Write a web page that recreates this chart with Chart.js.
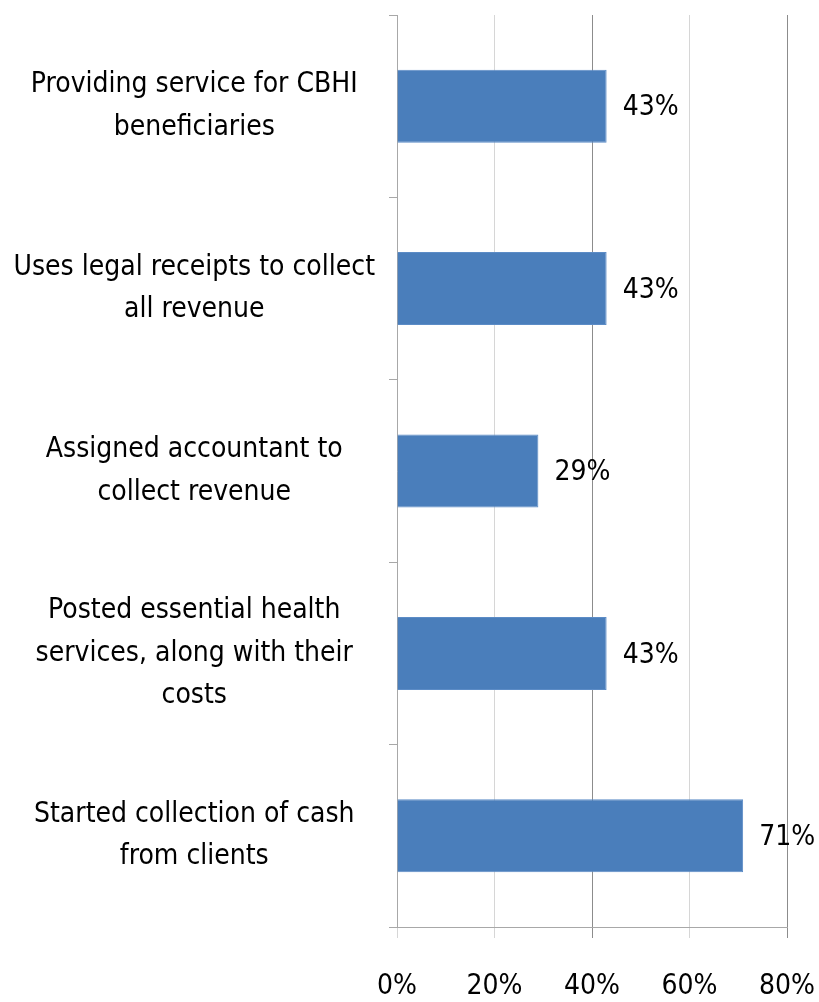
<!DOCTYPE html>
<html>
<head>
<meta charset="utf-8">
<script src="https://cdn.jsdelivr.net/npm/chart.js@4.4.1/dist/chart.umd.min.js"></script>
<style>
  html, body { margin: 0; padding: 0; background: #fff; }
  #wrap { width: 819px; height: 1002px; }
</style>
</head>
<body>
<div id="wrap"><canvas id="c" width="819" height="1002"></canvas></div>
<script>
const categories = [
  ["Providing service for CBHI", "beneficiaries"],
  ["Uses legal receipts to collect", "all revenue"],
  ["Assigned accountant to", "collect revenue"],
  ["Posted essential health", "services, along with their", "costs"],
  ["Started collection of cash", "from clients"]
];
const values = [43, 43, 29, 43, 71];
const valueLabels = ["43%", "43%", "29%", "43%", "71%"];
const xTicks = [0, 20, 40, 60, 80];

const FONT = "'Liberation Sans Narrow', 'DejaVu Sans Condensed', 'Arial Narrow', sans-serif";
const FS = 28;

const valueLabelPlugin = {
  id: 'valueLabels',
  afterDatasetsDraw(chart) {
    const ctx = chart.ctx;
    const meta = chart.getDatasetMeta(0);
    ctx.save();
    ctx.font = FS + "px " + FONT;
    ctx.fillStyle = '#000';
    ctx.textAlign = 'left';
    ctx.textBaseline = 'middle';
    meta.data.forEach((bar, i) => {
      ctx.fillText(valueLabels[i], bar.x + 16, bar.y + 2);
    });
    ctx.restore();
  }
};

new Chart(document.getElementById('c'), {
  type: 'bar',
  data: {
    labels: categories,
    datasets: [{
      data: values,
      backgroundColor: '#4A7EBB',
      borderColor: '#5C8CC6',
      borderWidth: 1,
      categoryPercentage: 1.0,
      barPercentage: 0.4
    }]
  },
  options: {
    indexAxis: 'y',
    responsive: false,
    animation: false,
    layout: { padding: { top: 15, right: 32, left: 0, bottom: 0 } },
    plugins: { legend: { display: false }, tooltip: { enabled: false } },
    scales: {
      x: {
        min: 0, max: 80,
        afterBuildTicks(scale) { scale.ticks = xTicks.map(v => ({ value: v })); },
        afterFit(scale) { scale.height = 75; scale.paddingLeft = 0; scale.paddingRight = 0; },
        ticks: {
          callback: v => v + '%',
          color: '#000',
          padding: 32,
          font: { family: FONT, size: FS }
        },
        grid: {
          drawOnChartArea: true,
          tickLength: 11,
          color: ctx => {
            const v = ctx.tick ? ctx.tick.value : 0;
            return (v === 40 || v === 80) ? '#8c8c8c' : '#d6d6d6';
          },
          lineWidth: 1
        },
        border: { display: true, color: '#a8a8a8' }
      },
      y: {
        afterFit(scale) { scale.width = 397; scale.paddingTop = 0; scale.paddingBottom = 0; },
        ticks: {
          color: '#000',
          crossAlign: 'center',
          padding: 14,
          font: { family: FONT, size: FS, lineHeight: 1.52 }
        },
        grid: {
          offset: true,
          drawOnChartArea: false,
          tickLength: 8,
          color: '#a8a8a8'
        },
        border: { display: true, color: '#a8a8a8' }
      }
    }
  },
  plugins: [valueLabelPlugin]
});
</script>
</body>
</html>
